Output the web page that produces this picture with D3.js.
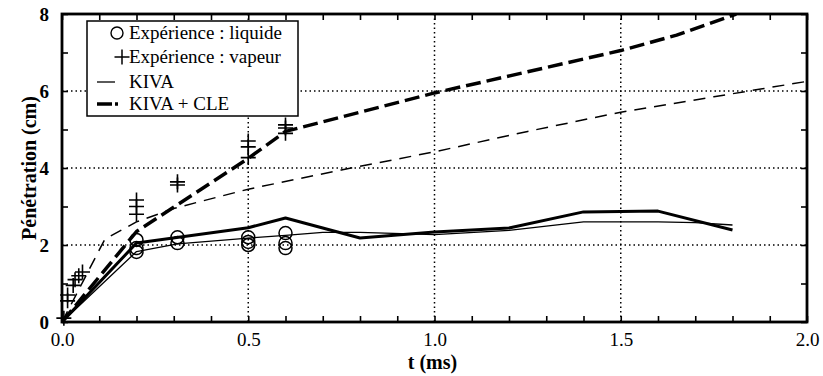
<!DOCTYPE html>
<html>
<head>
<meta charset="utf-8">
<script src="https://cdn.jsdelivr.net/npm/d3@7"></script>
<style>
  body { margin: 0; background: #fff; }
  svg { display: block; }
  text { font-family: "Liberation Serif", "Times New Roman", serif; fill: #000; }
</style>
</head>
<body>
<div id="chart"></div>
<script>
// experimental points (t in ms, penetration in cm)
var liquidExpT = [0.2, 0.2, 0.2, 0.31, 0.31, 0.5, 0.5, 0.5, 0.6, 0.6, 0.6];
var liquidExpY = [2.13, 1.92, 1.82, 2.2, 2.05, 2.2, 2.08, 2.0, 2.31, 2.05, 1.92];

var vapourExpT = [0.005, 0.015, 0.015, 0.03, 0.035, 0.045, 0.055, 0.2, 0.2, 0.2, 0.31, 0.31, 0.5, 0.5, 0.5, 0.6, 0.6, 0.6];
var vapourExpY = [0.1, 0.55, 0.7, 0.95, 1.1, 1.2, 1.3, 3.17, 3.0, 2.8, 3.64, 3.56, 4.7, 4.55, 4.27, 5.12, 5.04, 4.9];

// KIVA, liquid (thin solid)
var kivaLiqT = [0, 0.2, 0.31, 0.5, 0.6, 0.7, 0.8, 1.0, 1.2, 1.4, 1.6, 1.7, 1.8];
var kivaLiqY = [0, 1.83, 2.03, 2.18, 2.25, 2.33, 2.33, 2.27, 2.38, 2.6, 2.6, 2.58, 2.52];

// KIVA + CLE, liquid (thick solid)
var cleLiqT = [0, 0.2, 0.5, 0.6, 0.8, 1.0, 1.2, 1.4, 1.6, 1.8];
var cleLiqY = [0, 2.05, 2.45, 2.7, 2.18, 2.34, 2.44, 2.86, 2.88, 2.39];

// KIVA, vapour (thin dashed)
var kivaVapT = [0, 0.115, 0.2, 0.3, 0.5, 0.75, 1.0, 1.25, 1.5, 1.75, 2.0];
var kivaVapY = [0, 2.15, 2.6, 2.95, 3.45, 3.95, 4.42, 4.95, 5.45, 5.85, 6.25];

// KIVA + CLE, vapour (thick dashed)
var cleVapT = [0, 0.2, 0.5, 0.6, 0.8, 1.0, 1.25, 1.5, 1.65, 1.81];
var cleVapY = [0, 2.35, 4.25, 4.95, 5.45, 5.95, 6.5, 7.05, 7.45, 8.0];

var xTickLabels = [0.0, 0.5, 1.0, 1.5, 2.0];
var yTickLabels = [0, 2, 4, 6, 8];
var legendLabels = ["Expérience : liquide", "Expérience : vapeur", "KIVA", "KIVA + CLE"];

var width = 823, height = 376;
// note: "top" is taken by window.top, so plot edges get their own names
var plotL = 62, plotR = 807, plotT = 14, plotB = 322;

var x = d3.scaleLinear().domain([0, 2]).range([plotL, plotR]);
var y = d3.scaleLinear().domain([0, 8]).range([plotB, plotT]);

var svg = d3.select("#chart").append("svg")
  .attr("width", width)
  .attr("height", height);

svg.append("defs").append("clipPath").attr("id", "plot")
  .append("rect")
  .attr("x", plotL).attr("y", plotT)
  .attr("width", plotR - plotL).attr("height", plotB - plotT);

function zip(ts, ys) {
  return ts.map(function(t, i) { return [t, ys[i]]; });
}

// dotted grid
var gridX = [0.5, 1.0, 1.5], gridY = [2, 4, 6];
svg.append("g").selectAll("line").data(gridX).enter().append("line")
  .attr("x1", function(d) { return x(d); }).attr("x2", function(d) { return x(d); })
  .attr("y1", plotT).attr("y2", plotB)
  .attr("stroke", "#000").attr("stroke-width", 1.5).attr("stroke-dasharray", "1.5,3");
svg.append("g").selectAll("line").data(gridY).enter().append("line")
  .attr("y1", function(d) { return y(d); }).attr("y2", function(d) { return y(d); })
  .attr("x1", plotL).attr("x2", plotR)
  .attr("stroke", "#000").attr("stroke-width", 1.5).attr("stroke-dasharray", "1.5,3");

// minor ticks on all four sides, pointing inward
var xMinor = d3.range(0, 21).map(function(i) { return i / 10; });
var yMinor = d3.range(0, 9);

function tickAxis(axis, tr) {
  var g = svg.append("g").attr("transform", tr).call(axis);
  g.select(".domain").remove();
  g.selectAll(".tick line").attr("stroke", "#000").attr("stroke-width", 1.6);
  g.selectAll("text").remove();
}
tickAxis(d3.axisBottom(x).tickValues(xMinor).tickSizeInner(-6), "translate(0," + plotB + ")");
tickAxis(d3.axisTop(x).tickValues(xMinor).tickSizeInner(-6), "translate(0," + plotT + ")");
tickAxis(d3.axisLeft(y).tickValues(yMinor).tickSizeInner(-6), "translate(" + plotL + ",0)");
tickAxis(d3.axisRight(y).tickValues(yMinor).tickSizeInner(-6), "translate(" + plotR + ",0)");

// tick labels
var xAxis = svg.append("g").attr("transform", "translate(0," + plotB + ")")
  .call(d3.axisBottom(x).tickValues(xTickLabels).tickFormat(d3.format(".1f")).tickSize(0).tickPadding(10));
xAxis.select(".domain").remove();
xAxis.selectAll("text").attr("font-size", 19).attr("font-family", "Liberation Serif").attr("dy", "0.72em");

var yAxis = svg.append("g").attr("transform", "translate(" + plotL + ",0)")
  .call(d3.axisLeft(y).tickValues(yTickLabels).tickFormat(d3.format("d")).tickSize(0).tickPadding(13));
yAxis.select(".domain").remove();
yAxis.selectAll("text").attr("font-size", 19).attr("font-weight", "bold").attr("font-family", "Liberation Serif");

// model curves
var line = d3.line()
  .x(function(d) { return x(d[0]); })
  .y(function(d) { return y(d[1]); });

var curves = [
  { data: zip(kivaVapT, kivaVapY), w: 1.5, dash: "12,8" },
  { data: zip(cleVapT, cleVapY), w: 3.5, dash: "15,6" },
  { data: zip(kivaLiqT, kivaLiqY), w: 1.3, dash: null },
  { data: zip(cleLiqT, cleLiqY), w: 3, dash: null }
];
svg.append("g").attr("clip-path", "url(#plot)")
  .selectAll("path").data(curves).enter().append("path")
  .attr("d", function(d) { return line(d.data); })
  .attr("fill", "none")
  .attr("stroke", "#000")
  .attr("stroke-width", function(d) { return d.w; })
  .attr("stroke-dasharray", function(d) { return d.dash; })
  .attr("stroke-linejoin", "round");

// experimental markers
svg.append("g").selectAll("circle").data(zip(liquidExpT, liquidExpY)).enter().append("circle")
  .attr("cx", function(d) { return x(d[0]); })
  .attr("cy", function(d) { return y(d[1]); })
  .attr("r", 6.5)
  .attr("fill", "none").attr("stroke", "#000").attr("stroke-width", 1.5);

function plusPath(s) {
  return "M" + (-s) + ",0H" + s + "M0," + (-s) + "V" + s;
}
svg.append("g").selectAll("path").data(zip(vapourExpT, vapourExpY)).enter().append("path")
  .attr("transform", function(d) { return "translate(" + x(d[0]) + "," + y(d[1]) + ")"; })
  .attr("d", plusPath(7.5))
  .attr("fill", "none").attr("stroke", "#000").attr("stroke-width", 1.6);

// frame
svg.append("rect")
  .attr("x", plotL).attr("y", plotT)
  .attr("width", plotR - plotL).attr("height", plotB - plotT)
  .attr("fill", "none").attr("stroke", "#000").attr("stroke-width", 2.8);

// legend
var lg = svg.append("g");
lg.append("rect")
  .attr("x", 87).attr("y", 21).attr("width", 211).attr("height", 95)
  .attr("fill", "#fff").attr("stroke", "#000").attr("stroke-width", 1.5);
var rowY = [33, 57, 82, 104];
lg.append("circle").attr("cx", 117).attr("cy", rowY[0]).attr("r", 6)
  .attr("fill", "none").attr("stroke", "#000").attr("stroke-width", 1.4);
lg.append("path").attr("transform", "translate(122," + rowY[1] + ")").attr("d", plusPath(7.5))
  .attr("fill", "none").attr("stroke", "#000").attr("stroke-width", 1.5);
lg.append("line").attr("x1", 97).attr("x2", 115).attr("y1", rowY[2]).attr("y2", rowY[2])
  .attr("stroke", "#000").attr("stroke-width", 1.3);
lg.append("line").attr("x1", 97).attr("x2", 118).attr("y1", rowY[3]).attr("y2", rowY[3])
  .attr("stroke", "#000").attr("stroke-width", 3.5).attr("stroke-dasharray", "15,3");
lg.selectAll("text.lab").data(legendLabels).enter().append("text")
  .attr("class", "lab")
  .attr("x", 129)
  .attr("y", function(d, i) { return rowY[i] + 6; })
  .attr("font-size", 19)
  .text(function(d) { return d; });

// axis titles
svg.append("text")
  .attr("x", (plotL + plotR) / 2 - 2).attr("y", 369)
  .attr("text-anchor", "middle")
  .attr("font-size", 20).attr("font-weight", "bold")
  .text("t (ms)");

svg.append("text")
  .attr("transform", "translate(36," + ((plotT + plotB) / 2) + ") rotate(-90)")
  .attr("text-anchor", "middle")
  .attr("font-size", 20).attr("font-weight", "bold")
  .text("Pénétration (cm)");
</script>
</body>
</html>
